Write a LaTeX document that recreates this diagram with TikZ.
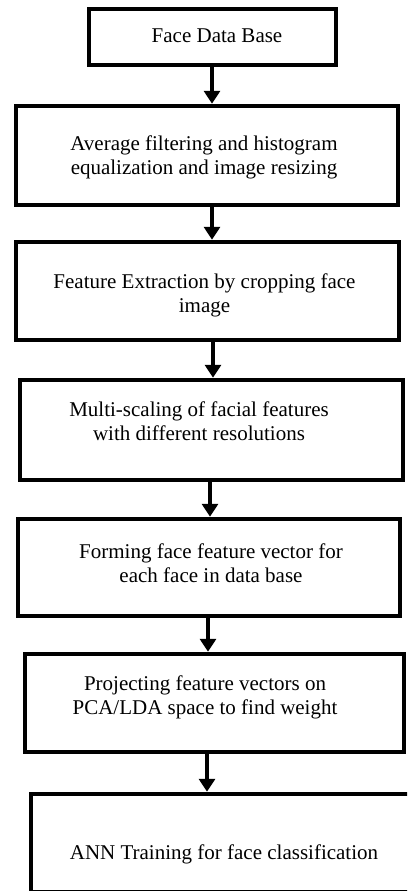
\documentclass[tikz,border=0pt]{standalone}
\usepackage{fontspec}
\setmainfont{Liberation Serif}
\usetikzlibrary{arrows.meta}

\begin{document}
\begin{tikzpicture}[x=1pt,y=-1pt,
  stage/.style={draw=black, line width=4.5pt, inner sep=0pt, fill=white},
  label/.style={font=\fontsize{21}{24}\selectfont, align=center, anchor=base, inner sep=0pt},
  flow/.style={line width=4.8pt, -{Triangle[length=13pt,width=16pt]}}]
\useasboundingbox (0,0) rectangle (407,891);
\clip (0,0) rectangle (407,891);

% processing stages (line centres)
\node[stage, minimum width=247pt, minimum height=56pt] (b1) at (212.5,37) {};
\node[stage, minimum width=382pt, minimum height=99pt] (b2) at (207,155.5) {};
\node[stage, minimum width=383pt, minimum height=98pt] (b3) at (207.5,291) {};
\node[stage, minimum width=383pt, minimum height=100pt] (b4) at (211.5,430) {};
\node[stage, minimum width=382pt, minimum height=97pt] (b5) at (209,567.5) {};
\node[stage, minimum width=379pt, minimum height=98pt] (b6) at (214.5,703) {};
\node[stage, minimum width=399pt, minimum height=98pt] (b7) at (230.5,843) {};

% stage captions (base anchor sits on the last line)
\node[label] (t1) at (217,43) {Face Data Base};
\node[label] (t2) at (204,174) {Average filtering and histogram\\equalization and image resizing};
\node[label] (t3) at (204.5,312) {Feature Extraction by cropping face\\image};
\node[label] (t4) at (199,440) {Multi-scaling of facial features\\with different resolutions};
\node[label] (t5) at (211,582) {Forming face feature vector for\\each face in data base};
\node[label] (t6) at (205,714) {Projecting feature vectors on\\PCA/LDA space to find weight};
\node[label] (t7) at (224,859) {ANN Training for face classification};

% flow between stages
\draw[flow] (b1.south -| 212,0) -- (b2.north -| 212,0);
\draw[flow] (b2.south -| 212,0) -- (b3.north -| 212,0);
\draw[flow] (b3.south -| 213,0) -- (b4.north -| 213,0);
\draw[flow] (b4.south -| 210,0) -- (b5.north -| 210,0);
\draw[flow] (b5.south -| 208,0) -- (b6.north -| 208,0);
\draw[flow] (b6.south -| 207,0) -- (b7.north -| 207,0);
\end{tikzpicture}
\end{document}
